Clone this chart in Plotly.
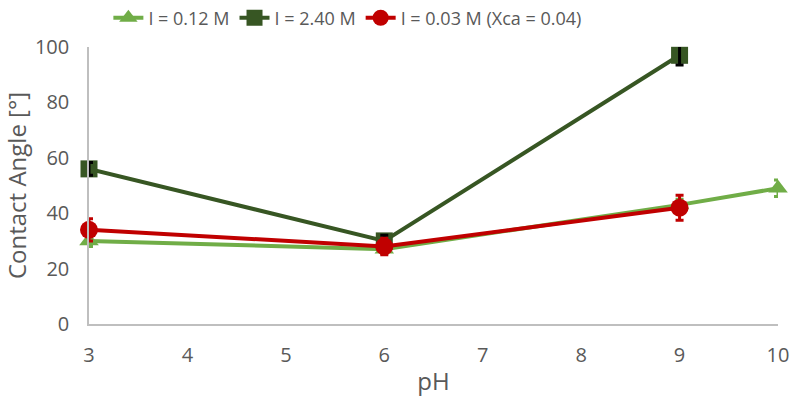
import plotly.graph_objects as go

ph_a = [3, 6, 9, 10]
angle_a = [30, 27, 43, 49]
err_a = [2, 1.5, 2, 3]

ph_b = [3, 6, 9]
angle_b = [56, 30, 97]
err_b = [2.3, 2, 3.5]

ph_c = [3, 6, 9]
angle_c = [34, 28, 42]
err_c = [4, 3, 4.5]

names = ["I = 0.12 M", "I = 2.40 M", "I = 0.03 M (Xca = 0.04)"]

series = [
    (ph_a, angle_a, err_a, names[0], "#70AD47", "triangle-up", 17, "#70AD47", 4),
    (ph_b, angle_b, err_b, names[1], "#375623", "square", 17, "#000000", 4),
    (ph_c, angle_c, err_c, names[2], "#C00000", "circle", 18, "#C00000", 4),
]

fig = go.Figure()
for xs, ys, es, nm, col, sym, sz, ecol, ew in series:
    fig.add_trace(go.Scatter(
        x=xs, y=ys, name=nm, mode="lines+markers", cliponaxis=False,
        line=dict(color=col, width=4),
        marker=dict(symbol=sym, size=sz, color=col),
    ))
    fig.add_trace(go.Scatter(
        x=xs, y=ys, mode="markers", showlegend=False, cliponaxis=False,
        marker=dict(size=1, opacity=0, color=col),
        error_y=dict(type="data", array=es, color=ecol, thickness=3, width=ew),
        hoverinfo="skip",
    ))

fig.update_layout(
    width=794, height=410,
    margin=dict(l=89, r=16, t=47, b=86, autoexpand=False),
    paper_bgcolor="white", plot_bgcolor="white",
    font=dict(family="Open Sans, Liberation Sans, sans-serif", color="#595959", size=20),
    showlegend=True,
    legend=dict(orientation="h", x=0.375, xanchor="center",
                yref="container", y=0.956, yanchor="middle",
                font=dict(size=18, color="#595959"), tracegroupgap=0),
    xaxis=dict(range=[3, 10], tickvals=[3, 4, 5, 6, 7, 8, 9, 10], showgrid=False,
               showline=True, linecolor="#BFBFBF", linewidth=1.5, zeroline=False,
               ticks="", ticklabelstandoff=12,
               title=dict(text="pH", standoff=6), tickfont=dict(size=20)),
    yaxis=dict(range=[0, 100], tickvals=[0, 20, 40, 60, 80, 100], showgrid=False,
               showline=True, linecolor="#BFBFBF", linewidth=1.5, zeroline=False,
               ticks="", ticklabelstandoff=14,
               title=dict(text="Contact Angle [°]", standoff=10), tickfont=dict(size=20)),
)

fig.write_html("out.html")
